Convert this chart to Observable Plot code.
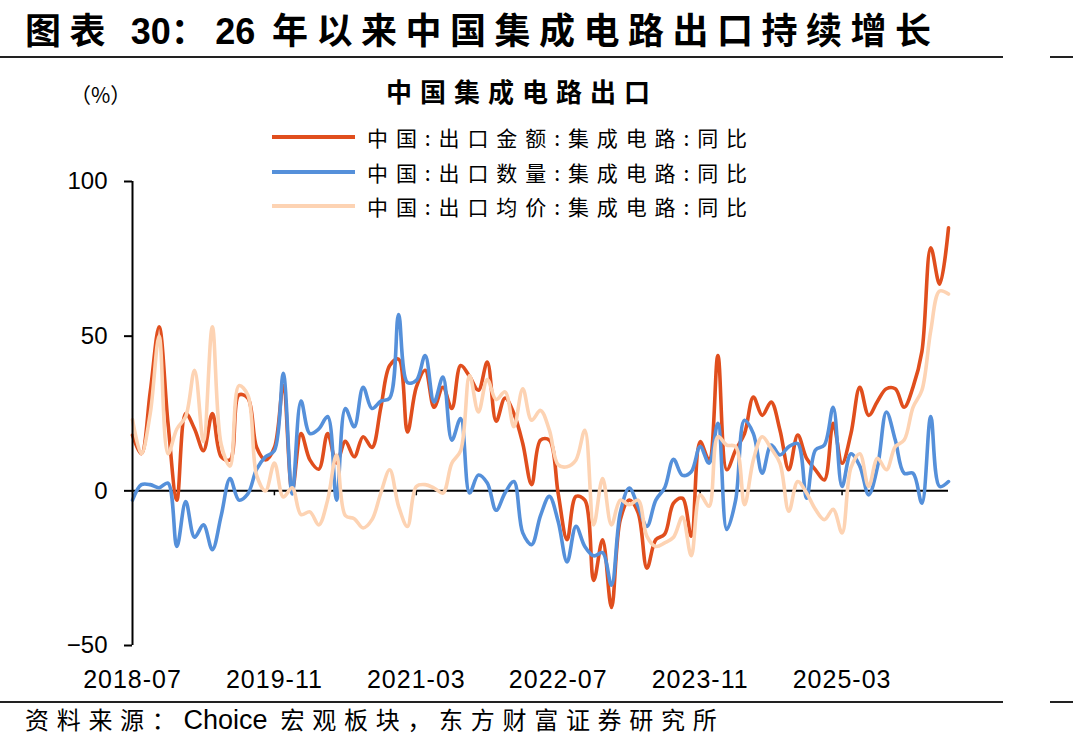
<!DOCTYPE html>
<html><head><meta charset="utf-8">
<script src="https://cdn.jsdelivr.net/npm/d3@7"></script>
<script src="https://cdn.jsdelivr.net/npm/@observablehq/plot@0.6"></script>
<style>
body{margin:0;background:#fff;}
#wrap{position:relative;width:1073px;height:753px;overflow:hidden;background:#fff;font-family:"Noto Sans CJK SC","Noto Sans",sans-serif;color:#000;}
#chart{position:absolute;left:0;top:0;}
.abs{position:absolute;white-space:nowrap;}
#title{left:25px;top:6px;font-size:36px;font-weight:bold;letter-spacing:8.5px;line-height:44px;}
#title .num{font-family:"Liberation Sans",Arial,sans-serif;font-size:36px;letter-spacing:0;}
.rule{position:absolute;height:2px;background:#222;}
#sub{left:0;width:1044px;text-align:center;top:74px;font-size:26px;font-weight:bold;letter-spacing:8px;line-height:34px;}
#unit{left:70px;top:80px;font-size:21px;line-height:28px;}
.leg{position:absolute;left:272px;height:30px;display:flex;align-items:center;}
.leg span.sw{display:inline-block;width:83px;height:4px;margin-right:12px;}
.leg span.tx{font-size:21px;letter-spacing:7.9px;}
#src{left:25px;top:703px;font-size:24px;letter-spacing:7.7px;line-height:32px;}
#src .lat{font-family:"Liberation Sans",Arial,sans-serif;font-size:27px;letter-spacing:0;}
</style></head><body><div id="wrap">
<div id="chart"></div>
<div class="abs" id="title">图表 <span class="num">30</span>：<span class="num">26</span> 年以来中国集成电路出口持续增长</div>
<div class="rule" style="left:0;top:56px;width:1003px"></div>
<div class="rule" style="left:1050px;top:56px;width:23px"></div>
<div class="abs" id="sub">中国集成电路出口</div>
<div class="abs" id="unit">（%）</div>
<div id="legend"></div>
<div class="rule" style="left:0;top:701px;width:1003px"></div>
<div class="rule" style="left:1050px;top:701px;width:23px"></div>
<div class="abs" id="src">资料来源：<span class="lat">Choice</span> 宏观板块，东方财富证券研究所</div>
</div>
<script>
const startYear = 2018, startMonth = 7, monthCount = 93;
const seriesNames = ["中国:出口金额:集成电路:同比","中国:出口数量:集成电路:同比","中国:出口均价:集成电路:同比"];
const seriesColors = ["#E04E1D","#5590DA","#FDD3B3"];
const tickMonths = ["2018-07","2019-11","2021-03","2022-07","2023-11","2025-03"];
const yTicks = [-50,0,50,100];

const exportValue = [18,12,32,53,22,-3,25,20,13,25,11,10,31,30,14,10,14,34,0,18.5,
10,7,18.5,9,16,11,17.5,14,27,40.5,42.6,19,33.5,39,27,33.5,26.6,40.5,37,32.5,
41.6,22.5,30,25,15.3,2,16.4,16.4,-1,-15.8,-1.8,-3,-29,-15.8,-37.7,-9.3,-3,-7,-25,-15.8,
-14,-4,-2.4,-14.7,15.9,10,43.7,6.8,13.2,18.5,30.3,24.4,28.7,19.6,6.8,18,10.5,6.8,3.5,21.8,
8.9,18.5,33.5,24.4,29,33,33,27,33.5,45,78.6,66.8,85];

const exportVolume = [-3,2,2,1,2.5,-18,-3.5,-15,-11,-19,-8,4,-3,-1,7,11,13,38,-1,29,
18.5,20,24,-3,26.6,20.7,33.5,26.6,29,30,57,35,35.7,43.7,28.7,36.8,16.4,23.4,-0.7,5.1,
2.5,-6.3,-0.7,3,-13.6,-17.4,-8,-1.8,-10,-23,-11.5,-18,-21,-20,-30.5,-7,0.9,-5,-11.5,-3,
1,10.2,5,6.2,14.3,8.9,21.8,-12.5,-3,22.8,18.5,5.7,14.8,11.6,14.3,15.3,-2.4,13.2,14.8,27,
1.4,12,8,-1.3,7.8,25.5,16.4,5.7,5.7,-4,24,1.4,3];

const unitPrice = [23,12,25,50,12,20,24,39,16,53,15,8,34,31,5,0,9,-2,1,-7.7,
-6.8,-11,-3,11.6,-8,-9,-12,-9.3,-0.7,6.8,-5,-11.5,1.4,2,0.9,-0.7,8.9,13,37.3,25.5,
36,29.5,32,20.7,33,22.8,26,19.6,8.4,7.8,10,19.6,-11,4,-11,-3,-4.5,-3,-14.7,-18,
-16.8,-15,-8.5,-21,-1.3,-5,17.5,14.8,14.3,-4.5,10,17.5,13.7,8.9,-6.6,3,-0.7,-6,-9.3,-6,
-13.6,7.5,12,1.4,10.5,6.8,14.3,16.4,27,32.5,51.8,64.6,63.6];

const months = [];
for (let k = 0; k < monthCount; k++) {
  const t = startMonth - 1 + k;
  const y = startYear + Math.floor(t / 12), m = (t % 12) + 1;
  months.push(`${y}-${String(m).padStart(2,"0")}`);
}
const tickIdx = tickMonths.map(m => months.indexOf(m));
const allSeries = [exportValue, exportVolume, unitPrice];
const rows = [];
allSeries.forEach((arr, s) => arr.forEach((v, i) => rows.push({i, v, s: seriesNames[s]})));

const chart = Plot.plot({
  width: 1073, height: 700,
  marginLeft: 132, marginRight: 125, marginTop: 181, marginBottom: 55,
  style: {fontFamily: "'Liberation Sans', Arial, sans-serif", background: "transparent"},
  x: {domain: [0, monthCount - 1], axis: null},
  y: {domain: [-50, 100], axis: null},
  color: {domain: seriesNames, range: seriesColors},
  marks: [
    Plot.ruleY([0], {stroke: "#000", strokeWidth: 2}),
    Plot.ruleX(tickIdx.slice(1), {y1: 0, y2: -1.6, stroke: "#000", strokeWidth: 1.5}),
    ...seriesNames.map(name => Plot.line(rows.filter(r => r.s === name), {
      x: "i", y: "v", stroke: "s", strokeWidth: 3.6, curve: "catmull-rom"
    })),
    Plot.ruleX([0], {stroke: "#000", strokeWidth: 2}),
    Plot.axisY({ticks: yTicks, label: null, tickSize: 8, tickPadding: 17, fontSize: 24, stroke: "#000", strokeWidth: 2, tickFormat: d => d < 0 ? "−" + Math.abs(d) : String(d)}),
    Plot.axisX({ticks: tickIdx, label: null, tickFormat: d => months[d], tickSize: 0, tickPadding: 25, fontSize: 25, anchor: "bottom"})
  ]
});
chart.querySelectorAll("text").forEach(t => t.setAttribute("fill", "#000"));
chart.querySelectorAll("g[aria-label='x-axis tick label'] text").forEach(t => t.setAttribute("letter-spacing", "1"));
document.getElementById("chart").appendChild(chart);

const legend = document.getElementById("legend");
const legTops = [122, 157, 191];
seriesNames.forEach((n, k) => {
  const d = document.createElement("div");
  d.className = "leg";
  d.style.top = legTops[k] + "px";
  d.innerHTML = `<span class="sw" style="background:${seriesColors[k]}"></span><span class="tx">${n}</span>`;
  legend.appendChild(d);
});
</script>
</body></html>
